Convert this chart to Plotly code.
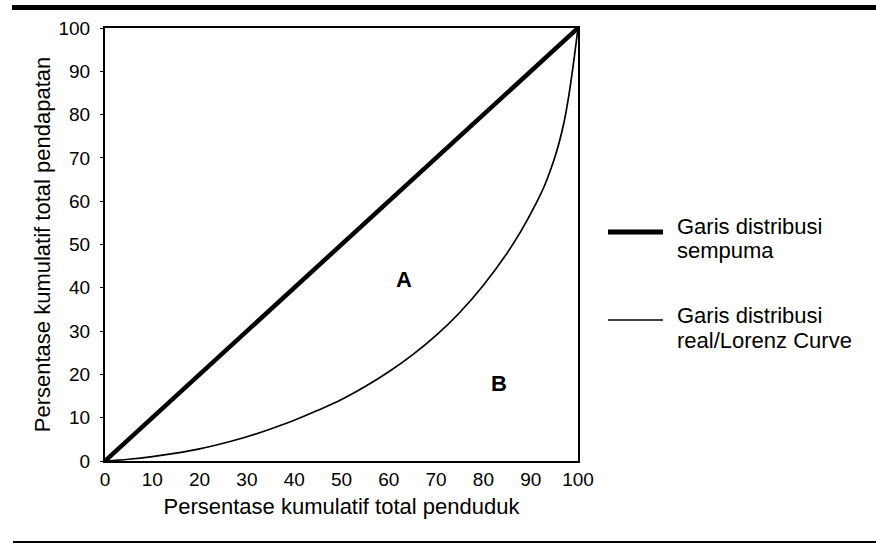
import plotly.graph_objects as go

# Data
equal_x = [0, 100]
equal_y = [0, 100]
lorenz_x = [0, 5, 10, 15, 20, 25, 30, 35, 40, 45, 50, 55, 60, 65, 70, 75, 80, 85,
            88, 91, 93, 95, 96, 97, 98, 99, 100]
lorenz_y = [0, 0.4, 1.0, 1.8, 2.8, 4.1, 5.6, 7.4, 9.4, 11.7, 14.2, 17.2, 20.6, 24.5,
            29.0, 34.3, 40.6, 48.0, 53.2, 59.2, 63.8, 69.8, 73.5, 78.0, 84.0, 91.5, 100]
tick_vals = [0, 10, 20, 30, 40, 50, 60, 70, 80, 90, 100]
tick_text = [str(v) for v in tick_vals]
legend_lines = [["Garis distribusi", "sempuma"], ["Garis distribusi", "real/Lorenz Curve"]]
area_labels = ["A", "B"]
area_x = [63.3, 83.3]
area_y = [42.0, 18.0]

FONT = "Liberation Sans, Arial, sans-serif"
L, R, T, B = 105, 578, 28, 461          # plot box in pixels
PW, PH = R - L, B - T


def px(x):
    return (x - L) / PW


def py(y):
    return (B - y) / PH


fig = go.Figure()
fig.add_trace(go.Scatter(x=equal_x, y=equal_y, mode="lines",
                         line=dict(color="black", width=4.5), showlegend=False,
                         name=" ".join(legend_lines[0])))
fig.add_trace(go.Scatter(x=lorenz_x, y=lorenz_y, mode="lines",
                         line=dict(color="black", width=1.7, shape="spline", smoothing=1.0),
                         showlegend=False, name=" ".join(legend_lines[1])))

for t, x, y in zip(area_labels, area_x, area_y):
    fig.add_annotation(x=x, y=y, text="<b>" + t + "</b>", showarrow=False,
                       font=dict(family=FONT, size=22, color="black"))

# Legend drawn with shapes + annotations
shapes = []
leg = [(232, 5, 227, 251), (320, 1.4, 315, 340)]
for (ly, w, t1, t2), lines in zip(leg, legend_lines):
    shapes.append(dict(type="line", xref="paper", yref="paper",
                       x0=px(608), x1=px(663), y0=py(ly), y1=py(ly),
                       line=dict(color="black", width=w)))
    for txt, ty in zip(lines, (t1, t2)):
        fig.add_annotation(xref="paper", yref="paper", x=px(675), y=py(ty),
                           xanchor="left", yanchor="middle", showarrow=False,
                           text=txt, font=dict(family=FONT, size=22, color="black"))

# Top and bottom page rules
shapes.append(dict(type="line", xref="paper", yref="paper",
                   x0=px(12), x1=px(876), y0=py(7.5), y1=py(7.5),
                   line=dict(color="black", width=5)))
shapes.append(dict(type="line", xref="paper", yref="paper",
                   x0=px(13), x1=px(876), y0=py(542), y1=py(542),
                   line=dict(color="black", width=2)))

fig.update_layout(
    width=876, height=544,
    margin=dict(l=L, r=876 - R, t=T, b=544 - B),
    paper_bgcolor="white", plot_bgcolor="white",
    font=dict(family=FONT, size=19, color="black"),
    shapes=shapes,
    showlegend=False,
)
fig.update_xaxes(range=[0, 100], tickvals=tick_vals, ticktext=tick_text,
                 showgrid=False, zeroline=False, showline=True, linecolor="black",
                 linewidth=2, mirror=True, ticks="", ticklen=0,
                 tickfont=dict(size=19),
                 title=dict(text="Persentase kumulatif total penduduk", standoff=10,
                            font=dict(size=22)))
fig.update_yaxes(range=[0, 100], tickvals=tick_vals, ticktext=tick_text,
                 showgrid=False, zeroline=False, showline=True, linecolor="black",
                 linewidth=2, mirror=True, ticks="outside", ticklen=3, tickwidth=1,
                 tickcolor="black", tickfont=dict(size=19), ticklabelstandoff=6,
                 title=dict(text="Persentase kumulatif total pendapatan", standoff=2,
                            font=dict(size=22)))

fig.write_html("out.html", config={"displayModeBar": False},
               post_script="document.body.style.margin='0';")
